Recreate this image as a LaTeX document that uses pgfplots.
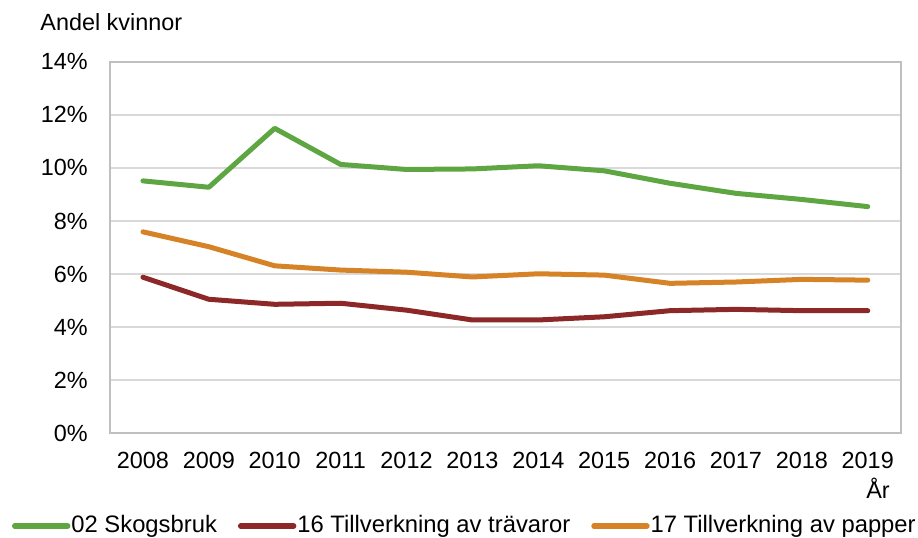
\documentclass[border=0pt]{standalone}
\usepackage{fontspec}
\setmainfont{Liberation Sans}
\usepackage{pgfplots}
\pgfplotsset{compat=1.18}
\definecolor{cgreen}{RGB}{94,166,66}
\definecolor{cred}{RGB}{140,40,40}
\definecolor{corange}{RGB}{214,130,38}
\definecolor{gridc}{RGB}{217,217,217}
\definecolor{axc}{RGB}{191,191,191}
\begin{document}
\fontsize{11.7}{14}\selectfont
\begin{tikzpicture}
\path[use as bounding box] (0,0) rectangle (459pt,-268.5pt);
\begin{axis}[
  at={(55pt,-30.85pt)}, anchor=north west,
  scale only axis, width=395.35pt, height=185.8pt,
  xmin=-0.5, xmax=11.5, ymin=0, ymax=14,
  xtick={0,...,11},
  xticklabels={2008,2009,2010,2011,2012,2013,2014,2015,2016,2017,2018,2019},
  ytick={0,2,...,14},
  yticklabel={\pgfmathprintnumber{\tick}\%},
  /pgf/number format/assume math mode=true,
  ymajorgrids, grid style={color=gridc, line width=1pt},
  axis line style={color=axc, line width=1pt},
  tick style={draw=none},
  ticklabel style={font=\fontsize{11.7}{14}\selectfont},
  yticklabel style={xshift=-7pt},
  xticklabel style={yshift=-5.3pt},
  legend columns=3,
  legend style={at={(rel axis cs:-0.1239,-0.2495)}, anchor=west, draw=none, fill=none,
    inner sep=0pt, outer sep=0pt, font=\fontsize{11.9}{14}\selectfont,
    nodes={inner sep=0pt},
    /tikz/every odd column/.append style={column sep=0.5pt},
    /tikz/every even column/.append style={column sep=10.5pt}},
  legend cell align=left,
  legend image code/.code={\draw[#1, line width=2.7pt] (0pt,0pt) -- (26.5pt,0pt);},
  every axis plot/.append style={line width=2.5pt, line join=round, line cap=round},
]
\addplot[cgreen] coordinates {(0,9.51) (1,9.27) (2,11.49) (3,10.13) (4,9.94) (5,9.96) (6,10.08) (7,9.89) (8,9.42) (9,9.04) (10,8.81) (11,8.54)};
\addlegendentry{02 Skogsbruk}
\addplot[cred] coordinates {(0,5.88) (1,5.05) (2,4.86) (3,4.90) (4,4.64) (5,4.27) (6,4.27) (7,4.39) (8,4.62) (9,4.67) (10,4.62) (11,4.62)};
\addlegendentry{16 Tillverkning av trävaror}
\addplot[corange] coordinates {(0,7.59) (1,7.03) (2,6.31) (3,6.15) (4,6.07) (5,5.89) (6,6.01) (7,5.96) (8,5.65) (9,5.70) (10,5.80) (11,5.77)};
\addlegendentry{17 Tillverkning av papper}
\end{axis}
\node[anchor=west, inner sep=0pt] at (20pt,-10.85pt) {Andel kvinnor};
\node[inner sep=0pt] at (439pt,-244pt) {År};
\end{tikzpicture}
\end{document}
